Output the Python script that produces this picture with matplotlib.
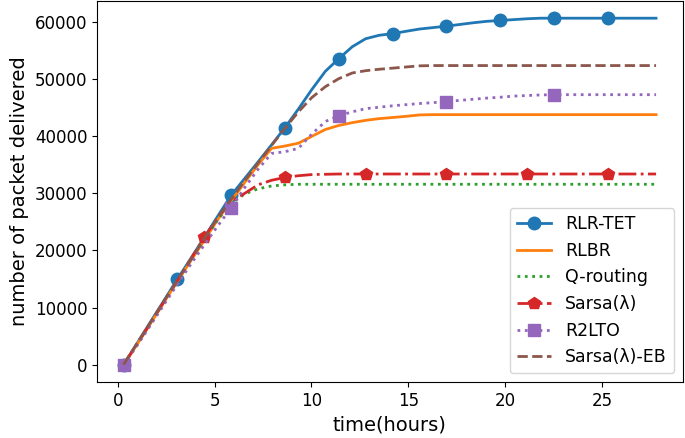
import matplotlib
matplotlib.use('Agg')
from matplotlib import pyplot as plt

# time axis (hours)
time_h = [0.30, 0.99, 1.69, 2.38, 3.08, 3.77, 4.47, 5.16, 5.86, 6.55,
          7.24, 7.94, 8.63, 9.33, 10.02, 10.72, 11.41, 12.11, 12.80, 13.49,
          14.19, 14.88, 15.58, 16.27, 16.97, 17.66, 18.36, 19.05, 19.75, 20.44,
          21.13, 21.83, 22.52, 23.22, 23.91, 24.61, 25.30, 26.00, 26.69, 27.39,
          27.80]

rlr_tet = [0, 3700, 7500, 11200, 15000, 18600, 22300, 26000, 29700, 32600,
           35500, 38500, 41500, 44800, 48200, 51400, 53600, 55700, 57100, 57700,
           58000, 58400, 58800, 59050, 59300, 59600, 59900, 60150, 60300, 60450,
           60600, 60700, 60700, 60700, 60700, 60700, 60700, 60700, 60700, 60700,
           60700]

rlbr = [0, 3500, 7200, 10900, 14600, 18200, 21800, 25400, 28700, 31900,
        35000, 37900, 38300, 38800, 40000, 41200, 41900, 42400, 42800, 43100,
        43300, 43500, 43750, 43800, 43800, 43800, 43800, 43800, 43800, 43800,
        43800, 43800, 43800, 43800, 43800, 43800, 43800, 43800, 43800, 43800,
        43800]

q_routing = [0, 3600, 7300, 11000, 14700, 18300, 21900, 25400, 28200, 29900,
             30800, 31300, 31500, 31600, 31600, 31600, 31600, 31600, 31600, 31600,
             31600, 31600, 31600, 31600, 31600, 31600, 31600, 31600, 31600, 31600,
             31600, 31600, 31600, 31600, 31600, 31600, 31600, 31600, 31600, 31600,
             31600]

sarsa = [0, 3600, 7300, 11000, 14700, 18500, 22300, 25800, 28600, 30000,
         31500, 32300, 32800, 33100, 33300, 33350, 33400, 33400, 33400, 33400,
         33400, 33400, 33400, 33400, 33400, 33400, 33400, 33400, 33400, 33400,
         33400, 33400, 33400, 33400, 33400, 33400, 33400, 33400, 33400, 33400,
         33400]

r2lto = [0, 3300, 6900, 10500, 14100, 17600, 21000, 24300, 27500, 31000,
         34200, 37000, 37300, 37900, 40400, 42600, 43600, 44300, 44850, 45100,
         45350, 45550, 45750, 45900, 46100, 46300, 46500, 46700, 46850, 47050,
         47150, 47250, 47300, 47300, 47300, 47300, 47300, 47300, 47300, 47300,
         47300]

sarsa_eb = [0, 3700, 7400, 11100, 14800, 18400, 22100, 25700, 29000, 32200,
            35300, 38400, 41400, 44300, 46800, 48700, 50100, 51100, 51500, 51750,
            51950, 52150, 52350, 52400, 52400, 52400, 52400, 52400, 52400, 52400,
            52400, 52400, 52400, 52400, 52400, 52400, 52400, 52400, 52400, 52400,
            52400]

fig = plt.figure(figsize=(6.85, 4.38), dpi=100)
ax = fig.add_axes([0.1416, 0.128, 0.855, 0.87])

lw = 2
ax.plot(time_h, rlr_tet, color='#1f77b4', lw=lw, marker='o', markersize=9,
        markevery=slice(0, 37, 4), label='RLR-TET')
ax.plot(time_h, rlbr, color='#ff7f0e', lw=lw, label='RLBR')
ax.plot(time_h, q_routing, color='#2ca02c', lw=lw, ls=':', label='Q-routing')
ax.plot(time_h, sarsa, color='#d62728', lw=lw, ls='-.', marker='p', markersize=9,
        markevery=slice(6, 37, 6), label='Sarsa(λ)')
ax.plot(time_h, r2lto, color='#9467bd', lw=lw, ls=':', marker='s', markersize=9,
        markevery=slice(0, 37, 8), label='R2LTO')
ax.plot(time_h, sarsa_eb, color='#8c564b', lw=lw, ls='--', label='Sarsa(λ)-EB')

ax.set_xticks([0, 5, 10, 15, 20, 25])
ax.set_yticks([0, 10000, 20000, 30000, 40000, 50000, 60000])
ax.tick_params(labelsize=12)
ax.set_xlabel('time(hours)', fontsize=14)
ax.set_ylabel('number of packet delivered', fontsize=14)
ax.legend(loc='lower right', fontsize=12.5)

fig.savefig('out.png', dpi=100)
